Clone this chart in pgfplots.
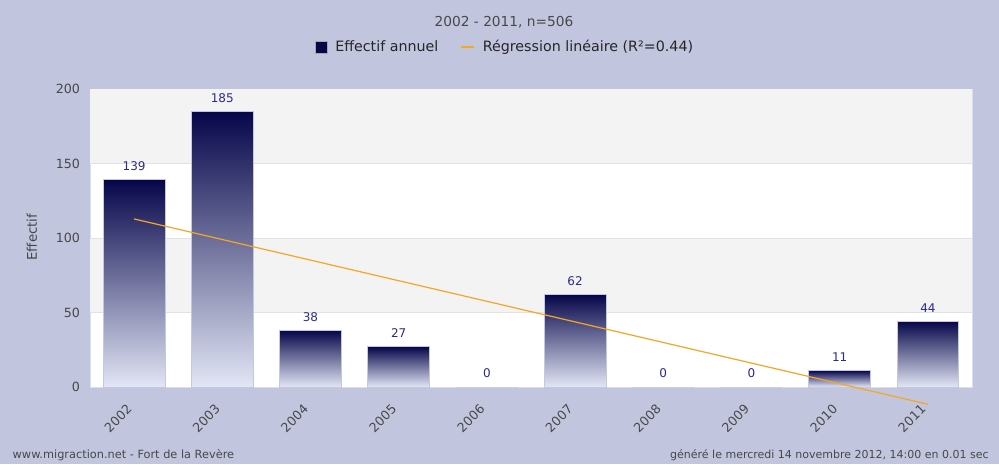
\documentclass[border=0pt]{standalone}
\usepackage{pgfplots}
\usepackage{pgfplotstable}
\pgfplotsset{compat=1.18}
\usepackage{fontspec}
\setmainfont{DejaVu Sans}

\definecolor{bgblue}{HTML}{C1C6DE}
\definecolor{bandgray}{HTML}{F3F3F3}
\definecolor{gridgray}{HTML}{E2E2E2}
\definecolor{txtgray}{HTML}{484848}
\definecolor{lblblue}{HTML}{2B2B8C}
\definecolor{barTop}{HTML}{06064A}
\definecolor{barBot}{HTML}{E2E6F5}
\definecolor{barEdge}{HTML}{C4C8DE}
\definecolor{regorange}{HTML}{F5A623}

% year index, count
\pgfplotstableread{
x  n
0  139
1  185
2  38
3  27
4  0
5  62
6  0
7  0
8  11
9  44
}\effectif

\begin{document}
\begin{tikzpicture}
\fill[bgblue] (0,0) rectangle (749.25pt,348pt);
\useasboundingbox (0,0) rectangle (749.25pt,348pt);

\node[font=\fontsize{10.3}{12}\selectfont, text=txtgray] at (378pt,331.5pt) {2002 - 2011, n=506};
\node[anchor=west, font=\fontsize{8.5}{10}\selectfont, text=txtgray] at (6pt,6.75pt) {www.migraction.net - Fort de la Revère};
\node[anchor=east, font=\fontsize{8.25}{10}\selectfont, text=txtgray] at (745pt,6.75pt) {généré le mercredi 14 novembre 2012, 14:00 en 0.01 sec};

\begin{axis}[
    at={(67.5pt,57.75pt)}, anchor=south west,
    scale only axis,
    width=661.5pt, height=223.5pt,
    xmin=-0.5, xmax=9.5,
    ymin=0, ymax=200,
    clip=false,
    axis background/.style={fill=white},
    axis line style={draw=barEdge!60},
    major tick length=0pt,
    xtick={0,...,9},
    xticklabels={2002,2003,2004,2005,2006,2007,2008,2009,2010,2011},
    ytick={0,50,100,150,200},
    /pgf/number format/assume math mode=true,
    tick label style={font=\fontsize{9.5}{11}\selectfont, text=txtgray},
    xticklabel style={xshift=-1pt, yshift=-12.5pt, rotate=45, anchor=east},
    yticklabel style={xshift=-4pt},
    ylabel={Effectif},
    ylabel style={at={(axis description cs:-0.066,0.503)}, anchor=center, font=\fontsize{10}{12}\selectfont, text=txtgray},
    legend style={at={(axis description cs:0.471,1.141)}, anchor=center, draw=none, fill=none,
        legend columns=2, font=\fontsize{10.7}{12}\selectfont, text=black!85,
        /tikz/every even column/.append style={column sep=14pt}},
]
% background bands and grid lines
\fill[bandgray] (axis cs:-0.5,50) rectangle (axis cs:9.5,100);
\fill[bandgray] (axis cs:-0.5,150) rectangle (axis cs:9.5,200);
\draw[gridgray] (axis cs:-0.5,50) -- (axis cs:9.5,50);
\draw[gridgray] (axis cs:-0.5,100) -- (axis cs:9.5,100);
\draw[gridgray] (axis cs:-0.5,150) -- (axis cs:9.5,150);

% one plot per bar so that each bar gets its own gradient
\pgfplotsinvokeforeach{0,...,9}{
\addplot[ybar, bar shift=0pt, bar width=0.7, draw=barEdge, line width=0.7pt,
    top color=barTop, bottom color=barBot,
    restrict x to domain=#1:#1, forget plot,
    nodes near coords,
    every node near coord/.append style={font=\fontsize{9}{11}\selectfont, text=lblblue, yshift=3pt}]
    table[x=x, y=n] {\effectif};
}
\addlegendimage{legend image code/.code={\draw[fill=barTop, draw=gray!70] (0pt,-4.5pt) rectangle (9pt,4.5pt); \path[draw=none, fill=none] (0pt,0pt) rectangle (13pt,0.1pt);}}
\addlegendentry{Effectif annuel}

\addplot[regorange, line width=0.9pt, sharp plot,
    legend image code/.code={\draw[regorange, line width=1.5pt] (0pt,0pt) -- (10pt,0pt); \path[draw=none, fill=none] (0pt,0pt) rectangle (14.5pt,0.1pt);}]
    coordinates {(0,112.8) (9,-11.6)};
\addlegendentry{Régression linéaire (R²=0.44)}
\end{axis}
\end{tikzpicture}
\end{document}
